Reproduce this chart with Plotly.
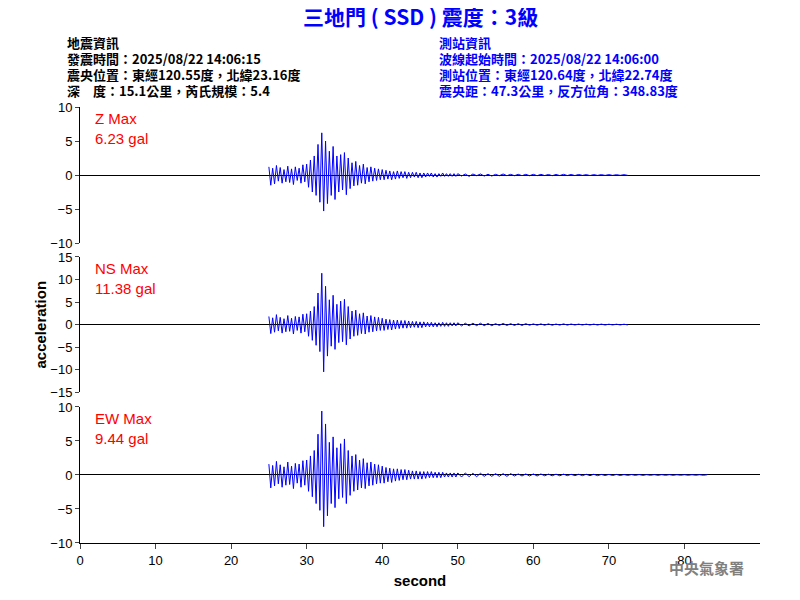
import plotly.graph_objects as go
from plotly.subplots import make_subplots

# dense part: 25.0 s to 50.0 s, step 0.25 s ; tail: 50 s onward, step 0.5 s
dense_start, dense_step = 25.0, 0.25
tail_start, tail_step = 50.0, 0.5

z_dense = [1.2,-1.5,1.0,-1.3,1.4,-0.9,1.1,-1.2,0.8,-1.0,1.3,-1.1,0.9,-1.4,1.2,-0.8,1.0,-1.2,1.5,-1.0,
           1.6,-1.8,2.2,-2.5,2.8,-3.0,4.5,-4.0,6.2,-5.3,5.0,-4.2,3.5,-3.0,4.2,-3.6,2.8,-2.5,3.0,-2.2,
           3.3,-2.9,2.5,-2.0,1.8,-1.6,2.0,-1.5,1.4,-1.2,1.6,-1.3,1.1,-1.0,1.2,-0.9,1.0,-0.8,0.9,-0.7,
           0.8,-0.7,0.7,-0.6,0.6,-0.7,0.5,-0.6,0.6,-0.5,0.5,-0.4,0.5,-0.5,0.4,-0.4,0.4,-0.3,0.4,-0.4,
           0.3,-0.4,0.3,-0.3,0.3,-0.2,0.3,-0.3,0.2,-0.3,0.2,-0.2,0.3,-0.2,0.2,-0.2,0.2,-0.2,0.2,-0.2]
z_tail = [0.2,-0.15,0.15,-0.2,0.15,-0.1,0.15,-0.15,0.1,-0.15,0.1,-0.1,0.15,-0.1,0.1,-0.1,0.1,-0.1,0.1,-0.1,
          0.1,-0.1,0.1,-0.08,0.08,-0.1,0.08,-0.08,0.1,-0.08,0.08,-0.08,0.08,-0.06,0.06,-0.08,0.06,-0.06,0.06,-0.06,
          0.06,-0.06,0.05,-0.05,0.05,-0.05]

ns_dense = [1.8,-2.0,1.5,-1.7,2.2,-1.4,1.6,-1.9,1.3,-1.6,2.0,-1.5,1.4,-2.1,1.8,-1.3,1.7,-1.9,2.3,-1.6,
            2.4,-2.6,3.0,-3.5,4.0,-4.6,7.0,-6.0,11.4,-10.5,8.5,-7.0,5.5,-4.8,6.5,-5.5,4.5,-4.0,5.2,-3.8,
            5.6,-4.5,4.0,-3.2,3.0,-2.6,3.2,-2.4,2.4,-2.0,2.6,-2.1,1.9,-1.7,2.0,-1.6,1.7,-1.4,1.6,-1.3,
            1.4,-1.3,1.2,-1.1,1.1,-1.2,1.0,-1.0,1.0,-0.9,0.9,-0.8,0.9,-0.8,0.8,-0.7,0.7,-0.6,0.7,-0.7,
            0.6,-0.7,0.6,-0.5,0.5,-0.5,0.5,-0.5,0.4,-0.5,0.4,-0.4,0.5,-0.4,0.4,-0.4,0.4,-0.3,0.4,-0.3]
ns_tail = [0.4,-0.3,0.3,-0.3,0.3,-0.25,0.3,-0.25,0.25,-0.25,0.2,-0.2,0.25,-0.2,0.2,-0.2,0.2,-0.2,0.2,-0.15,
           0.15,-0.15,0.15,-0.15,0.15,-0.15,0.12,-0.12,0.15,-0.12,0.12,-0.1,0.1,-0.1,0.1,-0.1,0.1,-0.1,0.1,-0.1,
           0.08,-0.08,0.08,-0.08,0.08,-0.08]

ew_dense = [1.6,-1.9,1.4,-1.6,2.0,-1.3,1.5,-1.8,1.2,-1.5,1.9,-1.4,1.3,-2.0,1.7,-1.2,1.6,-1.8,2.1,-1.5,
            2.2,-2.4,2.8,-3.2,3.6,-4.2,6.0,-5.2,9.4,-7.6,7.5,-6.0,4.8,-4.2,5.6,-4.8,4.0,-3.5,4.6,-3.3,
            5.3,-4.2,3.6,-3.0,2.8,-2.4,3.0,-2.2,2.2,-1.9,2.4,-2.0,1.8,-1.6,1.9,-1.5,1.6,-1.3,1.5,-1.2,
            1.3,-1.2,1.1,-1.0,1.0,-1.1,0.9,-0.9,0.9,-0.8,0.8,-0.7,0.8,-0.7,0.7,-0.6,0.6,-0.6,0.6,-0.6,
            0.5,-0.6,0.5,-0.5,0.5,-0.4,0.5,-0.4,0.4,-0.4,0.4,-0.4,0.4,-0.3,0.3,-0.3,0.3,-0.3,0.3,-0.3]
ew_tail = [0.3,-0.3,0.3,-0.25,0.25,-0.25,0.25,-0.2,0.2,-0.2,0.2,-0.2,0.2,-0.2,0.2,-0.15,0.15,-0.15,0.15,-0.15,
           0.15,-0.15,0.15,-0.12,0.12,-0.12,0.12,-0.12,0.12,-0.1,0.1,-0.1,0.1,-0.1,0.1,-0.1,0.1,-0.1,0.08,-0.08,
           0.08,-0.08,0.08,-0.08,0.06,-0.06,0.06,-0.06,0.06,-0.06,0.05,-0.05,0.05,-0.05,0.05,-0.05,0.05,-0.05,0.04,-0.04,
           0.04,-0.04,0.04,-0.04,0.04,-0.04,0.03]

channels = ["Z", "NS", "EW"]
max_vals = ["6.23", "11.38", "9.44"]
y_ranges = [10, 15, 10]
series = [(z_dense, z_tail), (ns_dense, ns_tail), (ew_dense, ew_tail)]

fig = make_subplots(rows=3, cols=1, shared_xaxes=False, vertical_spacing=0.03)
for i, (dense, tail) in enumerate(series):
    t = [dense_start + k * dense_step for k in range(len(dense))] + \
        [tail_start + k * tail_step for k in range(len(tail))]
    fig.add_trace(go.Scatter(x=t, y=dense + tail, mode="lines",
                             line=dict(color="blue", width=1), showlegend=False), row=i + 1, col=1)

font = dict(family="Arial", size=13, color="black")
for i, r in enumerate(y_ranges):
    ticks = list(range(-r, r + 1, 5))
    fig.update_yaxes(row=i + 1, col=1, range=[-r, r], tickvals=ticks, showgrid=False,
                     zeroline=True, zerolinecolor="black", zerolinewidth=1,
                     showline=True, linecolor="black", ticks="outside", ticklen=4,
                     tickfont=font, automargin=False)
    fig.update_xaxes(row=i + 1, col=1, range=[0, 90], showgrid=False, zeroline=False,
                     showticklabels=(i == 2), showline=(i == 2), linecolor="black",
                     ticks="outside" if i == 2 else "", tickvals=list(range(0, 90, 10)),
                     tickfont=font, automargin=False)
fig.update_xaxes(row=3, col=1, title=dict(text="<b>second</b>", standoff=8,
                                          font=dict(size=15, family="Arial", color="black")))

# domains: panels at fixed pixel heights
fig.update_layout(yaxis=dict(domain=[0.688, 1.0]), yaxis2=dict(domain=[0.346, 0.656]),
                  yaxis3=dict(domain=[0.0, 0.312]))

ann = []
label_y = [1.0, 0.656, 0.312]
for i, ch in enumerate(channels):
    ya = label_y[i]
    ann.append(dict(x=0.019, y=ya - 0.003, xref="paper", yref="paper",
                    text=f"{ch} Max<br>{max_vals[i]} gal",
                    showarrow=False, xanchor="left", yanchor="top", align="left",
                    font=dict(family="Arial", size=15, color="red")))

ann.append(dict(x=0.5, y=1.208, xref="paper", yref="paper", text="<b>三地門 ( SSD ) 震度：3級</b>",
                showarrow=False, yanchor="middle",
                font=dict(family="Noto Sans CJK TC", size=21, color="blue")))
left = ["地震資訊", "發震時間：2025/08/22 14:06:15", "震央位置：東經120.55度，北緯23.16度",
        "深　度：15.1公里，芮氏規模：5.4"]
right = ["測站資訊", "波線起始時間：2025/08/22 14:06:00", "測站位置：東經120.64度，北緯22.74度",
         "震央距：47.3公里，反方位角：348.83度"]
for k, (lt, rt) in enumerate(zip(left, right)):
    yy = 1.147 - k * 0.0365
    ann.append(dict(x=-0.022, y=yy, xref="paper", yref="paper", text=f"<b>{lt}</b>", showarrow=False,
                    xanchor="left", yanchor="middle",
                    font=dict(family="Noto Sans CJK TC", size=13, color="black")))
    ann.append(dict(x=0.525, y=yy, xref="paper", yref="paper", text=f"<b>{rt}</b>", showarrow=False,
                    xanchor="left", yanchor="middle",
                    font=dict(family="Noto Sans CJK TC", size=13, color="blue")))
ann.append(dict(x=-0.075, y=0.5, xref="paper", yref="paper", text="<b>acceleration</b>", textangle=-90,
                showarrow=False, font=dict(family="Arial", size=15, color="black")))
ann.append(dict(x=0.98, y=-0.085, xref="paper", yref="paper", text="<b>中央氣象署</b>", showarrow=False,
                xanchor="right", font=dict(family="Noto Sans CJK TC", size=15, color="gray")))

# the page adds an 8px offset, so margins are shifted to compensate
fig.update_layout(width=800, height=600, margin=dict(l=72, r=48, t=99, b=65, autoexpand=False),
                  plot_bgcolor="white", paper_bgcolor="white", annotations=ann)
fig.write_html("out.html")
